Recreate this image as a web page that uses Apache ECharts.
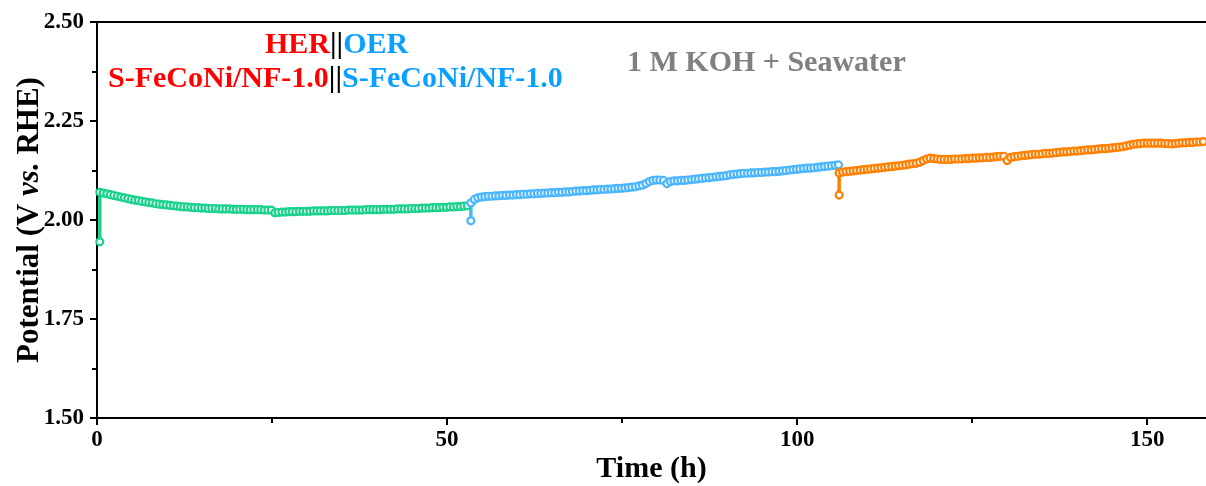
<!DOCTYPE html>
<html lang="en">
    <head>
        <meta charset="UTF-8" />
        <script type="text/javascript" src="https://cdn.jsdelivr.net/npm/echarts@6/dist/echarts.min.js"></script>
        <title>Stability</title>
        <style type="text/css">
            html, body { margin: 0; padding: 0; background: #fff; }
            #chart { width: 1206px; height: 486px; }
        </style>
    </head>

    <body>
        <div id="chart"></div>
        <script type="text/javascript">
            // sampling step (h) of the read-off points
            const step = 0.5;

            // segment 1 (green): initial point, then values from greenStart every 0.5 h
            const greenStart = 0.4;
            const greenFirst = 1.945;
            const greenValues = [
                2.070, 2.068, 2.066, 2.064, 2.062, 2.060, 2.058, 2.056, 2.054, 2.052,
                2.050, 2.049, 2.047, 2.046, 2.044, 2.043, 2.041, 2.040, 2.039, 2.038,
                2.037, 2.036, 2.035, 2.034, 2.033, 2.033, 2.032, 2.031, 2.031, 2.030,
                2.030, 2.029, 2.029, 2.029, 2.028, 2.028, 2.028, 2.028, 2.027, 2.027,
                2.027, 2.027, 2.026, 2.026, 2.026, 2.026, 2.026, 2.025, 2.025, 2.025,
                2.018, 2.019, 2.020, 2.020, 2.021, 2.021, 2.021, 2.022, 2.022, 2.022,
                2.022, 2.023, 2.023, 2.023, 2.023, 2.023, 2.024, 2.024, 2.024, 2.024,
                2.024, 2.025, 2.025, 2.025, 2.025, 2.025, 2.026, 2.026, 2.026, 2.026,
                2.026, 2.027, 2.027, 2.027, 2.027, 2.028, 2.028, 2.028, 2.028, 2.029,
                2.029, 2.029, 2.030, 2.030, 2.030, 2.031, 2.031, 2.031, 2.032, 2.032,
                2.033, 2.033, 2.034, 2.034, 2.035, 2.036
            ];

            // segment 2 (blue)
            const blueStart = 53.4;
            const blueFirst = 1.998;
            const blueValues = [
                2.043, 2.052, 2.056, 2.058, 2.059, 2.060, 2.060, 2.061, 2.061, 2.062,
                2.062, 2.063, 2.063, 2.064, 2.064, 2.065, 2.065, 2.066, 2.066, 2.067,
                2.067, 2.068, 2.068, 2.069, 2.069, 2.070, 2.070, 2.071, 2.071, 2.072,
                2.073, 2.073, 2.074, 2.074, 2.075, 2.076, 2.076, 2.077, 2.077, 2.078,
                2.078, 2.079, 2.080, 2.080, 2.081, 2.082, 2.083, 2.084, 2.086, 2.088,
                2.092, 2.097, 2.100, 2.101, 2.101, 2.100, 2.092, 2.097, 2.099, 2.099,
                2.100, 2.100, 2.101, 2.102, 2.103, 2.104, 2.105, 2.106, 2.107, 2.108,
                2.109, 2.110, 2.111, 2.112, 2.114, 2.115, 2.116, 2.117, 2.118, 2.118,
                2.119, 2.119, 2.120, 2.120, 2.121, 2.121, 2.122, 2.122, 2.123, 2.124,
                2.125, 2.126, 2.127, 2.128, 2.129, 2.130, 2.131, 2.131, 2.132, 2.133,
                2.134, 2.135, 2.136, 2.137, 2.138, 2.139
            ];

            // segment 3 (orange)
            const orangeStart = 106.0;
            const orangeFirst = 2.063;
            const orangeValues = [
                2.119, 2.121, 2.122, 2.123, 2.124, 2.125, 2.126, 2.127, 2.128, 2.129,
                2.130, 2.131, 2.132, 2.133, 2.134, 2.135, 2.136, 2.137, 2.138, 2.139,
                2.141, 2.142, 2.143, 2.146, 2.150, 2.154, 2.156, 2.155, 2.154, 2.153,
                2.153, 2.153, 2.153, 2.154, 2.154, 2.154, 2.155, 2.155, 2.156, 2.156,
                2.157, 2.157, 2.158, 2.158, 2.159, 2.160, 2.161, 2.161, 2.150, 2.158,
                2.160, 2.161, 2.162, 2.163, 2.164, 2.165, 2.166, 2.166, 2.167, 2.168,
                2.168, 2.169, 2.170, 2.171, 2.172, 2.172, 2.173, 2.174, 2.174, 2.175,
                2.176, 2.177, 2.177, 2.178, 2.179, 2.180, 2.180, 2.181, 2.182, 2.183,
                2.184, 2.185, 2.187, 2.189, 2.191, 2.192, 2.193, 2.194, 2.194, 2.194,
                2.194, 2.194, 2.194, 2.193, 2.193, 2.192, 2.193, 2.194, 2.195, 2.195,
                2.196, 2.196, 2.197, 2.197, 2.198, 2.198
            ];

            const xMax = 158.4;
            const xTicks = [0, 50, 100, 150];
            const xMinorTicks = [25, 75, 125];
            const yTicks = [1.5, 1.75, 2.0, 2.25, 2.5];

            const FONT = "'Liberation Serif', 'Times New Roman', serif";

            function toPoints(start, first, values) {
                let pts = [[start, first]];
                values.forEach((v, i) => pts.push([+(start + i * step).toFixed(2), v]));
                return pts;
            }

            function segment(name, color, data) {
                return {
                    name: name,
                    type: "line",
                    data: data,
                    symbol: "circle",
                    symbolSize: 7,
                    showAllSymbol: true,
                    animation: false,
                    lineStyle: { color: color, width: 3.5 },
                    itemStyle: { color: "#fff", borderColor: color, borderWidth: 2.2 },
                    z: 3,
                };
            }

            let chart = echarts.init(document.getElementById("chart"));

            let axisBlack = { color: "#000", width: 2 };

            let option = {
                backgroundColor: "#fff",
                animation: false,
                grid: { left: 97, right: 0, top: 22, bottom: 68, containLabel: false, outerBoundsMode: "none" },
                xAxis: [
                    {
                        type: "value",
                        min: xTicks[0],
                        max: xMax,
                        interval: 50,
                        name: "Time (h)",
                        nameLocation: "middle",
                        nameGap: 36,
                        nameMoveOverlap: false,
                        nameTextStyle: { fontFamily: FONT, fontWeight: "bold", fontSize: 30, color: "#000" },
                        axisLine: { show: true, lineStyle: axisBlack },
                        axisTick: { show: true, inside: false, length: 7, customValues: xTicks, lineStyle: axisBlack },
                        axisLabel: {
                            customValues: xTicks,
                            fontFamily: FONT,
                            fontWeight: "bold",
                            fontSize: 23,
                            color: "#000",
                            margin: 11,
                        },
                        splitLine: { show: false },
                    },
                    {
                        // top frame line
                        type: "value",
                        position: "top",
                        min: xTicks[0],
                        max: xMax,
                        axisLine: { show: true, lineStyle: axisBlack },
                        axisTick: { show: false },
                        axisLabel: { show: false },
                        splitLine: { show: false },
                    },
                    {
                        // minor ticks at the bottom
                        type: "value",
                        position: "bottom",
                        min: xTicks[0],
                        max: xMax,
                        axisLine: { show: false },
                        axisTick: { show: true, inside: false, length: 5, customValues: xMinorTicks, lineStyle: axisBlack },
                        axisLabel: { show: false },
                        splitLine: { show: false },
                    },
                ],
                yAxis: {
                    type: "value",
                    min: yTicks[0],
                    max: yTicks[yTicks.length - 1],
                    interval: 0.25,
                    name: "{a|Potential (V }{b|vs.}{a| RHE)}",
                    nameLocation: "middle",
                    nameGap: 52,
                    nameMoveOverlap: false,
                    nameTextStyle: {
                        color: "#000",
                        rich: {
                            a: { fontFamily: FONT, fontWeight: "bold", fontSize: 31, color: "#000" },
                            b: { fontFamily: FONT, fontWeight: "bold", fontStyle: "italic", fontSize: 31, color: "#000" },
                        },
                    },
                    axisLine: { show: true, lineStyle: axisBlack },
                    axisTick: { show: true, inside: false, length: 7, lineStyle: axisBlack },
                    minorTick: { show: true, splitNumber: 2, length: 5, lineStyle: axisBlack },
                    axisLabel: {
                        fontFamily: FONT,
                        fontWeight: "bold",
                        fontSize: 23,
                        color: "#000",
                        margin: 13,
                        formatter: (v) => v.toFixed(2),
                    },
                    splitLine: { show: false },
                },
                graphic: [
                    {
                        type: "text",
                        left: 265,
                        top: 30,
                        style: {
                            text: "{r|HER}{k|||}{b|OER}",
                            rich: {
                                r: { fontFamily: FONT, fontWeight: "bold", fontSize: 30, fill: "#ff0000" },
                                k: { fontFamily: FONT, fontWeight: "bold", fontSize: 30, fill: "#000" },
                                b: { fontFamily: FONT, fontWeight: "bold", fontSize: 30, fill: "#0aa0ff" },
                            },
                        },
                    },
                    {
                        type: "text",
                        left: 108,
                        top: 64,
                        style: {
                            text: "{r|S-FeCoNi/NF-1.0}{k|||}{b|S-FeCoNi/NF-1.0}",
                            rich: {
                                r: { fontFamily: FONT, fontWeight: "bold", fontSize: 30, fill: "#ff0000" },
                                k: { fontFamily: FONT, fontWeight: "bold", fontSize: 30, fill: "#000" },
                                b: { fontFamily: FONT, fontWeight: "bold", fontSize: 30, fill: "#0aa0ff" },
                            },
                        },
                    },
                    {
                        type: "text",
                        left: 627,
                        top: 48,
                        style: {
                            text: "1 M KOH + Seawater",
                            fontFamily: FONT,
                            fontWeight: "bold",
                            fontSize: 30,
                            fill: "#808080",
                        },
                    },
                ],
                series: [
                    segment("green", "#19d28c", toPoints(greenStart, greenFirst, greenValues)),
                    segment("blue", "#4ab6ff", toPoints(blueStart, blueFirst, blueValues)),
                    segment("orange", "#ff8000", toPoints(orangeStart, orangeFirst, orangeValues)),
                ],
            };

            chart.setOption(option);
        </script>
    </body>
</html>
